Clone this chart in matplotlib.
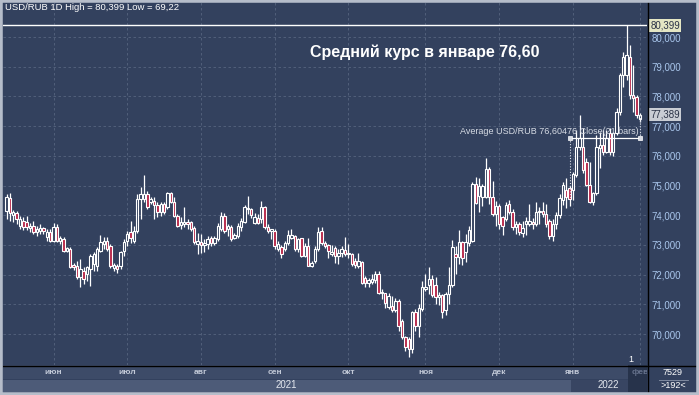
import numpy as np
import matplotlib
matplotlib.use('Agg')
import matplotlib.pyplot as plt
from matplotlib.patches import Rectangle
from matplotlib.lines import Line2D
import matplotlib.transforms as mtransforms

plt.rcParams['font.family'] = ['Liberation Sans', 'DejaVu Sans']

# ======================================
# Daily USD/RUB candles
# ======================================
opens = [74.16, 74.58, 74.02, 74.07, 73.65, 73.82, 73.76, 73.57, 73.65, 73.43,
         73.48, 73.57, 73.26, 73.45, 73.15, 73.60, 73.13, 73.20, 72.81, 72.87,
         72.33, 72.30, 71.91, 72.13, 72.02, 72.19, 72.36, 72.30, 72.81, 73.03,
         73.12, 72.97, 72.24, 72.29, 72.29, 72.80, 73.14, 73.44, 73.14, 73.48,
         74.55, 74.55, 74.72, 74.44, 74.49, 74.35, 74.10, 74.38, 74.27, 74.75,
         74.46, 73.99, 73.67, 73.70, 73.76, 73.76, 73.56, 73.03, 73.11, 72.99,
         73.03, 73.22, 73.08, 73.20, 73.53, 73.96, 73.53, 73.59, 73.22, 73.31,
         73.59, 73.78, 74.20, 74.22, 73.73, 73.92, 73.87, 74.29, 73.59, 73.47,
         73.47, 72.88, 72.92, 72.86, 73.06, 73.25, 73.31, 72.86, 73.22, 72.64,
         72.95, 72.30, 72.47, 72.86, 73.47, 73.08, 73.00, 72.69, 72.91, 72.63,
         72.74, 72.82, 72.74, 72.69, 72.46, 72.29, 72.44, 71.90, 71.73, 71.77,
         71.81, 72.04, 71.37, 71.37, 70.92, 70.95, 70.81, 71.12, 70.45, 69.89,
         69.83, 69.50, 70.73, 70.28, 70.84, 71.51, 71.64, 71.87, 71.64, 71.25,
         71.31, 70.80, 71.34, 71.64, 72.70, 72.59, 73.09, 72.76, 73.06, 73.15,
         75.05, 74.66, 74.63, 74.63, 75.55, 74.63, 74.04, 74.32, 73.93, 73.88,
         74.38, 74.10, 73.60, 73.71, 73.40, 73.69, 73.71, 73.77, 73.72, 74.10,
         74.15, 74.04, 73.81, 73.31, 73.72, 74.01, 74.52, 74.85, 74.91, 74.85,
         75.36, 76.31, 76.31, 75.81, 75.02, 74.46, 74.74, 76.26, 76.37, 76.14,
         76.76, 76.14, 76.76, 77.49, 78.72, 78.72, 79.34, 78.05, 77.99, 77.24]
highs = [74.72, 74.74, 74.18, 74.16, 73.99, 73.93, 73.99, 73.73, 73.82, 73.65,
         73.71, 73.62, 73.54, 73.54, 73.73, 73.71, 73.30, 73.26, 72.94, 72.92,
         72.38, 72.47, 72.53, 72.25, 72.30, 72.70, 72.75, 72.92, 73.35, 73.26,
         73.26, 73.03, 72.41, 72.35, 72.80, 73.20, 73.48, 73.82, 73.65, 74.72,
         74.94, 75.36, 74.83, 74.61, 74.61, 74.44, 74.44, 74.44, 74.80, 74.80,
         74.61, 74.04, 73.93, 74.27, 73.87, 73.82, 73.65, 73.42, 73.37, 73.20,
         73.31, 73.31, 73.31, 73.75, 74.11, 74.09, 73.70, 73.66, 73.42, 73.75,
         73.92, 74.34, 74.65, 74.26, 74.09, 74.03, 74.48, 74.31, 73.70, 73.55,
         73.53, 73.14, 72.99, 73.14, 73.51, 73.53, 73.33, 73.25, 73.25, 73.08,
         73.22, 72.47, 72.95, 73.62, 73.60, 73.13, 73.02, 73.00, 72.97, 72.85,
         72.97, 73.27, 73.02, 72.74, 72.55, 72.74, 72.46, 71.96, 71.90, 72.01,
         72.13, 72.13, 71.51, 71.40, 71.37, 71.29, 71.23, 71.17, 70.50, 69.94,
         69.89, 70.78, 70.84, 71.01, 71.79, 72.01, 72.26, 71.98, 71.92, 71.42,
         71.36, 71.42, 72.26, 73.17, 72.98, 73.51, 73.15, 73.37, 73.65, 75.11,
         75.30, 75.27, 75.05, 75.92, 75.61, 75.16, 74.49, 74.38, 73.99, 74.44,
         74.51, 74.21, 73.82, 73.77, 73.82, 73.93, 74.38, 73.90, 74.44, 74.27,
         74.44, 74.38, 73.87, 73.87, 74.10, 74.70, 75.13, 75.25, 75.00, 75.45,
         76.87, 77.38, 76.93, 75.92, 75.81, 74.80, 76.70, 76.82, 76.87, 76.87,
         76.93, 76.82, 77.60, 78.80, 79.51, 80.399, 79.73, 79.06, 78.05, 77.45]
lows = [73.88, 73.82, 73.76, 73.71, 73.54, 73.51, 73.51, 73.43, 73.37, 73.31,
        73.37, 73.37, 73.15, 73.09, 73.09, 73.09, 73.05, 72.75, 72.78, 72.22,
        72.16, 71.85, 71.57, 71.69, 71.80, 71.63, 72.13, 72.13, 72.75, 72.87,
        72.81, 72.24, 72.13, 72.05, 72.18, 72.63, 72.97, 73.08, 73.08, 73.42,
        73.87, 74.44, 74.21, 74.38, 73.87, 73.93, 73.99, 74.04, 74.21, 74.41,
        73.93, 73.59, 73.53, 73.59, 73.53, 73.48, 73.03, 72.69, 72.72, 72.75,
        72.86, 72.97, 72.99, 73.14, 73.47, 73.42, 73.31, 73.14, 73.20, 73.25,
        73.47, 73.73, 74.03, 73.92, 73.70, 73.70, 73.75, 73.53, 73.42, 73.20,
        72.86, 72.80, 72.55, 72.80, 72.99, 73.20, 72.80, 72.77, 72.61, 72.58,
        72.28, 72.25, 72.41, 72.80, 73.00, 72.91, 72.57, 72.63, 72.41, 72.37,
        72.60, 72.63, 72.57, 72.29, 72.24, 72.24, 71.68, 71.57, 71.57, 71.68,
        71.73, 71.34, 71.17, 70.89, 70.84, 70.76, 70.76, 70.11, 69.83, 69.44,
        69.22, 69.38, 70.11, 69.89, 70.78, 71.45, 71.36, 71.25, 71.03, 70.97,
        70.53, 70.64, 71.01, 71.59, 72.03, 72.37, 72.31, 72.42, 72.98, 73.09,
        74.38, 74.10, 74.32, 74.58, 74.38, 73.99, 73.65, 73.54, 73.32, 73.82,
        74.04, 73.51, 73.37, 73.32, 73.28, 73.32, 73.65, 73.55, 73.64, 73.70,
        73.93, 73.59, 73.19, 73.14, 73.55, 73.90, 74.35, 74.24, 74.30, 74.50,
        75.30, 76.20, 75.41, 74.97, 74.41, 74.35, 74.69, 75.58, 76.03, 76.09,
        76.03, 75.98, 76.70, 77.38, 78.33, 78.55, 77.90, 77.49, 77.26, 77.15]
closes = [74.61, 74.07, 74.10, 73.88, 73.88, 73.62, 73.62, 73.65, 73.43, 73.54,
          73.57, 73.46, 73.43, 73.15, 73.60, 73.15, 73.24, 72.81, 72.89, 72.25,
          72.25, 71.91, 72.19, 71.85, 72.25, 72.64, 72.70, 72.87, 73.09, 73.15,
          72.87, 72.29, 72.32, 72.20, 72.75, 73.11, 73.37, 73.22, 73.48, 74.55,
          74.72, 74.72, 74.27, 74.55, 74.35, 74.12, 74.38, 74.10, 74.75, 74.46,
          73.99, 73.65, 73.76, 73.78, 73.70, 73.53, 73.11, 73.14, 72.99, 73.06,
          73.20, 73.06, 73.22, 73.64, 73.96, 73.47, 73.64, 73.20, 73.33, 73.64,
          73.81, 74.29, 74.26, 74.00, 73.94, 73.75, 74.29, 73.59, 73.47, 73.53,
          72.97, 73.03, 72.69, 73.08, 73.33, 73.33, 72.86, 73.20, 72.64, 72.97,
          72.30, 72.41, 72.86, 73.44, 73.08, 72.97, 72.80, 72.78, 72.63, 72.74,
          72.85, 72.71, 72.69, 72.35, 72.33, 72.46, 71.73, 71.73, 71.81, 71.85,
          72.01, 71.40, 71.43, 71.06, 71.29, 70.81, 71.12, 70.28, 69.89, 69.55,
          69.50, 70.73, 70.28, 70.89, 71.59, 71.59, 71.87, 71.31, 71.25, 71.31,
          70.75, 71.36, 71.64, 72.93, 72.61, 73.09, 72.57, 73.09, 73.51, 75.05,
          74.40, 74.99, 74.99, 75.55, 74.63, 74.04, 74.32, 73.69, 73.65, 74.36,
          74.10, 73.60, 73.71, 73.43, 73.58, 73.82, 73.82, 73.69, 74.10, 74.15,
          74.04, 73.70, 73.31, 73.72, 74.01, 74.57, 75.02, 74.63, 74.55, 75.38,
          76.31, 76.61, 75.53, 75.02, 74.46, 74.74, 76.31, 76.37, 76.14, 76.59,
          76.14, 76.76, 77.49, 78.72, 79.34, 79.39, 78.05, 77.94, 77.38, 77.389]

month_labels = ['июн', 'июл', 'авг', 'сен', 'окт', 'ноя', 'дек', 'янв', 'фев']
month_start  = [14, 36, 58, 80, 102, 125, 147, 169, 189]   # first bar of month
price_ticks  = [70, 71, 72, 73, 74, 75, 76, 77, 78, 79, 80]

high_val  = 80.399
low_val   = 69.22
last_val  = 77.389
avg_val   = 76.60476
avg_bars  = 21
avg_first = 168
n_total   = 192
title_txt = 'Средний курс в январе 76,60'

# ======================================
# Colours / page helpers
# ======================================
W, H   = 699, 395
bg     = '#33415e'
red    = '#b8284a'
gridc  = '#56647f'

def fx(px):
	return px/W
def fy(py):
	return 1-py/H

opens  = np.array(opens)
highs  = np.array(highs)
lows   = np.array(lows)
closes = np.array(closes)
n      = len(closes)
x      = np.arange(n)

fig = plt.figure(figsize=(W/100., H/100.), dpi=100, facecolor=bg)

# ======================================
# Main price panel
# ======================================
ax = fig.add_axes([fx(3), fy(365), (647-3)/W, (365-2)/H])
ax.set_facecolor(bg)
ax.set_zorder(2)
for s in ax.spines.values():
	s.set_visible(False)

ax.set_xlim(-1.07, 191.1)
ax.set_ylim(68.96, 81.18)

ax.set_xticks(month_start)
ax.set_yticks(price_ticks)
ax.set_xticklabels([])
ax.yaxis.tick_right()
ax.set_yticklabels(['%d,000' % v for v in price_ticks])
ax.tick_params(axis='both', length=0)
ax.tick_params(axis='y', pad=3, labelsize=7, labelcolor='#a9c6ec')
ax.grid(True, color=gridc, ls=(0, (3, 3)), lw=0.6)
ax.set_axisbelow(True)

# candles
up    = closes >= opens
bot   = np.minimum(opens, closes)
hgt   = np.maximum(np.abs(closes-opens), 0.03)
faces = [bg if u else red for u in up]
ax.vlines(x, lows, highs, color='white', lw=0.9, zorder=2)
ax.bar(x, hgt, bottom=bot, width=0.72, color=faces, edgecolor='white',
	lw=0.8, zorder=3)

# high line
ax.axhline(high_val, color='white', lw=1.0, zorder=4)

# average over january
x_end = n-1
ax.plot([avg_first, x_end], [avg_val, avg_val], color='white', lw=0.9, zorder=5)
ax.plot([avg_first, avg_first], [avg_val, closes[avg_first]], color='#dde2ea',
	ls=(0, (1, 1.5)), lw=0.8, zorder=5)
ax.plot([x_end, x_end], [avg_val, closes[x_end]], color='#dde2ea',
	ls=(0, (1, 1.5)), lw=0.8, zorder=5)
ax.plot([avg_first, x_end], [avg_val, avg_val], ls='none', marker='s', ms=3,
	mfc='#d8dce4', mec='white', mew=0.5, zorder=6)
ax.text(x_end-0.3, avg_val+0.08,
	'Average USD/RUB %s Close(%d bars)' % (('%.5f' % avg_val).replace('.', ','), avg_bars),
	ha='right', va='bottom', fontsize=6.5, color='#d6dbe4', zorder=7)

# value flags on the price scale
trans = mtransforms.blended_transform_factory(ax.transAxes, ax.transData)
ax.text(1.005, high_val, ('%.3f' % high_val).replace('.', ','), transform=trans,
	fontsize=7, color='#2a3246', va='center', ha='left', clip_on=False,
	bbox=dict(boxstyle='square,pad=0.15', fc='#e4e6c4', ec='none'))
ax.text(1.005, last_val, ('%.3f' % last_val).replace('.', ','), transform=trans,
	fontsize=7, color='#2a3246', va='center', ha='left', clip_on=False,
	bbox=dict(boxstyle='square,pad=0.15', fc='#c9cdd4', ec='none'))

# texts on the panel
fig.text(fx(5), fy(8), 'USD/RUB 1D High = %s Low = %s' % (
	('%.3f' % high_val).replace('.', ','), ('%.2f' % low_val).replace('.', ',')),
	fontsize=6.8, color='white', va='center', ha='left', zorder=10)
fig.text(fx(425), fy(52), title_txt, fontsize=11.5, weight='bold', color='white',
	va='center', ha='center', zorder=10)
fig.text(fx(631), fy(360), '1', fontsize=6.5, color='white', va='center',
	ha='center', zorder=10)

# ======================================
# Date scale
# ======================================
axb = fig.add_axes([fx(3), fy(392), 644/W, 27/H], sharex=ax)
axb.axis('off')
axb.set_ylim(0, 27)
axb.axhspan(13, 27, color='#3d4b68', lw=0)
axb.axvspan(-1.07, month_start[7]-0.6, ymin=0, ymax=12/27., color='#4d5b78', lw=0)
axb.axvspan(month_start[7]-0.6, 191.1, ymin=0, ymax=12/27., color='#384562', lw=0)
axb.axvspan(month_start[8]-3.6, 191.1, color='#27334b', lw=0)
for lab, pos in zip(month_labels, month_start):
	c = '#66728c' if lab == 'фев' else '#c3cad8'
	axb.text(pos, 19.5, lab, ha='center', va='center', fontsize=6, weight='bold',
		color=c, clip_on=True)
fig.text(fx(286), fy(385.5), '2021', fontsize=7, color='#e4e8ef', ha='center', va='center')
fig.text(fx(619), fy(385.5), '2022', fontsize=7, color='#e4e8ef', ha='right', va='center')

# corner box
fig.text(fx(673), fy(372.5), '7529', fontsize=6.5, color='white', ha='center', va='center')
fig.text(fx(673), fy(385.5), '>%d<' % n_total, fontsize=6.5, color='white', ha='center', va='center')
fig.add_artist(Line2D([fx(659), fx(688)], [fy(379.5), fy(379.5)], color='#8c97ab', lw=0.6))

# separators and frame
fig.add_artist(Line2D([fx(647.5), fx(647.5)], [fy(2), fy(392)], color='black', lw=1.0, zorder=20))
fig.add_artist(Line2D([fx(3), fx(699)], [fy(365.5), fy(365.5)], color='black', lw=1.0, zorder=20))
fig.add_artist(Rectangle((0, 0), 1, 1, transform=fig.transFigure, fill=False,
	ec='#b6bdca', lw=4, zorder=30))

fig.savefig('out.png', dpi=100, facecolor=bg)
